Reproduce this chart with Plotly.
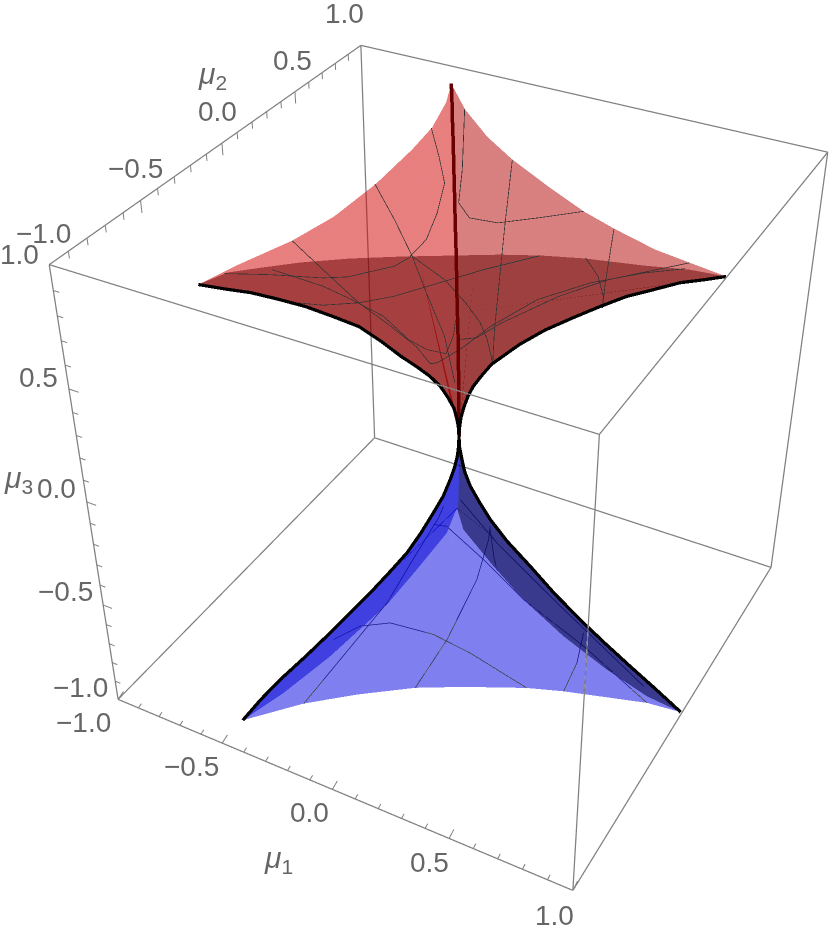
import numpy as np
import plotly.graph_objects as go

# red funnel: ridges (corner down to the neck) and rim arcs on mu3 = 1
rl_x = [-493, -449, -402, -353, -305, -254, -204, -160, -122, -89, -62, -39, -24, -11, -4, -1, 0]
rl_y = [-869, -792, -709, -622, -538, -448, -360, -283, -214, -157, -109, -70, -42, -19, -7, -2, 0]
rl_z = [1000, 955, 909, 850, 790, 715, 639, 545, 454, 385, 323, 260, 199, 140, 83, 40, 0]
rr_x = [997, 920, 840, 745, 650, 553, 456, 347, 248, 190, 135, 94, 60, 38, 22, 8, 1, 0]
rr_y = [-5, -5, -5, -4, -3, -3, -2, -2, -1, -1, -1, 0, 0, 0, 0, 0, 0, 0]
rr_z = [1000, 965, 931, 875, 820, 750, 676, 590, 498, 435, 375, 310, 252, 200, 148, 90, 33, 0]
rb_x = [-498, -459, -420, -372, -325, -276, -228, -173, -124, -95, -67, -47, -30, -19, -11, -4, 0, 0]
rb_y = [856, 790, 721, 640, 558, 474, 391, 298, 212, 163, 116, 80, 52, 33, 19, 7, 1, 0]
rb_z = [1000, 965, 931, 875, 820, 750, 676, 590, 498, 435, 375, 310, 252, 200, 148, 90, 33, 0]
af_x = [-453, -370, -277, -145, -5, 138, 282, 405, 542, 733, 874]
af_y = [-762, -680, -593, -492, -402, -317, -232, -172, -120, -69, -22]
al_x = [-455, -379, -342, -336, -354, -377, -434]
al_y = [-719, -483, -275, 1, 291, 484, 697]
ar_x = [-340, -160, 7, 213, 403, 544, 724]
ar_y = [678, 516, 396, 273, 168, 109, 45]
rf_mid = (327, -626, 1000)
rbl_mid = (-261, 171, 600)
rbr_mid = (-89, 290, 600)

# blue funnel: ridges and rim arcs on mu3 = -1
bl_x = [-499, -457, -412, -354, -298, -246, -198, -158, -120, -87, -59, -36, -20, -10, -4, -1, 0]
bl_y = [-860, -790, -711, -611, -513, -425, -341, -273, -208, -151, -101, -62, -35, -17, -7, -1, 0]
bl_z = [-1000, -930, -867, -800, -730, -660, -595, -535, -475, -400, -325, -260, -192, -140, -94, -45, 0]
br_x = [995, 880, 768, 660, 559, 430, 318, 215, 139, 90, 50, 25, 13, 2, 0]
br_y = [-1, -1, -1, -1, -1, 0, 0, 0, 0, 0, 0, 0, 0, 0, 0]
br_z = [-1000, -925, -855, -785, -716, -620, -521, -435, -354, -285, -222, -160, -106, -50, 0]
bb_x = [-398, -352, -307, -264, -223, -172, -127, -86, -56, -36, -20, -10, -5, -1, 0]
bb_y = [715, 632, 552, 474, 401, 309, 229, 154, 100, 65, 36, 18, 9, 1, 0]
bb_z = [-1000, -925, -855, -785, -716, -620, -521, -435, -354, -285, -222, -160, -106, -50, 0]
baf_x = [-339, -179, 7, 175, 400, 538, 857]
baf_y = [-669, -525, -381, -284, -169, -116, -17]
bal_x = [-352, -346, -345, -389, -441]
bal_y = [536, 255, -4, -387, -656]
bar_x = [-298, -64, 149, 398, 638, 842]
bar_y = [592, 433, 300, 175, 80, 17]
bf_mid = (-24, 68, -1000)

# thin mesh curves
rm0_x = [-339, -148, 29, 184, 359, 510]
rm0_y = [-4, -194, -381, -561, -758, -968]
rm1_x = [-378, -241, -124, -41, 16, 24, 9, -91, -158, -324, -457]
rm1_y = [479, 291, 121, -83, -262, -397, -465, -597, -641, -707, -771]
rm2_x = [-380, -187, 23, 183, 309, 395, 411, 439, 459, 517, 624, 753, 861]
rm2_y = [-484, -596, -717, -788, -850, -913, -899, -790, -639, -428, -252, -111, -22]
rm3_x = [407, 451, 480, 569, 667, 857]
rm3_y = [-754, -719, -606, -377, -206, 18]
rm4_x = [-334, -131, -7, 134, 270, 347, 411, 383, 344]
rm4_y = [-676, -685, -711, -749, -828, -850, -842, -745, -657]
rm5_x = [402, 279, 201, 103, 23, -70, -147]
rm5_y = [-174, -344, -470, -629, -717, -784, -810]
rm6_x = [29, 196, 325, 421, 485, 560]
rm6_y = [-381, -461, -555, -637, -712, -819]
rm7_x = [7, 198, 478, 560]
rm7_y = [396, -33, -650, -819]
rm8_x = [-342, -117, -10, 74, 176, 280, 401]
rm8_y = [677, 241, 16, -61, -45, 50, 169]
rm9_x = [544, 666, 722]
rm9_y = [107, -230, -374]
rm10_x = [542, 628, 695, 722]
rm10_y = [-116, -204, -308, -374]
bm0_x = [-338, -343, -350, -401, -436, -457]
bm0_y = [-669, -384, 6, 353, 611, 696]
bm1_x = [7, -17, -86, -167, -204]
bm1_y = [-381, -72, 320, 584, 670]
bm2_x = [-430, -375, -275, -81, 105, 400]
bm2_y = [-295, -173, -96, -72, -98, -169]
bm3_x = [-433, -375, -123, 150, 497, 857]
bm3_y = [560, 577, 452, 300, 160, -17]
bm4_x = [538, 515, 462]
bm4_y = [-115, 57, 233]
bm5_x = [-413, -124, 305, 808]
bm5_y = [775, 581, 337, 63]
bm6_x = [-193, -94, -41]
bm6_y = [649, 493, 420]

# axis ticks and labels
tick_minor = [-0.9, -0.8, -0.7, -0.6, -0.4, -0.3, -0.2, -0.1, 0.1, 0.2, 0.3, 0.4, 0.6, 0.7, 0.8, 0.9]
tick_major = [-1.0, -0.5, 0.0, 0.5, 1.0]
tick_text = ["\u22121.0", "\u22120.5", "0.0", "0.5", "1.0"]
mu1_shift = [(-35, 23), (-31, 23), (-23, 23), (-20, 24), (-18, 25)]
mu2_shift = [(-6, -31), (-5, -32), (-4, -32), (-2, -31), (-16, -32)]
mu3_shift = [(-38, -12), (-38, -13), (-30, -13), (-30, -11), (-30, -10)]

# camera of the reference box
az, el, dist = -1.07461, 0.63206, 3.38294
fig_w, fig_h = 1000, 1465
left_off, top_off = 41, 296


def curve(x, y, z):
    return np.array([x, y, z], float).T/1000


def flat(x, y, z):
    return curve(x, y, [z]*len(x))


def mesh(pts, tri, color, alpha):
    tri = np.array(tri)
    return go.Mesh3d(x=pts[:, 0], y=pts[:, 1], z=pts[:, 2], i=tri[:, 0], j=tri[:, 1], k=tri[:, 2],
                     color=color, opacity=alpha, flatshading=True, hoverinfo="skip",
                     lighting=dict(ambient=1, diffuse=0, specular=0, fresnel=0, roughness=1))


def sheet(a, b, color, alpha):
    # stitch two boundary polylines into one triangle strip
    a, b = np.array(a), np.array(b)
    na, nb = len(a), len(b)
    i, j, tri = 0, 0, []
    while i < na-1 or j < nb-1:
        if j == nb-1 or (i < na-1 and (i+1)/(na-1) <= (j+1)/(nb-1)):
            tri.append((i, i+1, na+j))
            i += 1
        else:
            tri.append((i, na+j, na+j+1))
            j += 1
    return mesh(np.vstack([a, b]), tri, color, alpha)


def fan(edge, mid, color, alpha):
    # a sheet whose three sides all bow inwards needs an inner vertex
    n = len(edge)
    return mesh(np.vstack([edge, np.array(mid, float)/1000]), [(n, t, t+1) for t in range(n-1)], color, alpha)


def path(x, y, z, color, width, alpha=1):
    return go.Scatter3d(x=x, y=y, z=z, mode="lines", line=dict(color=color, width=width), opacity=alpha, hoverinfo="skip")


rl = curve(rl_x, rl_y, rl_z)
rr = curve(rr_x, rr_y, rr_z)
rb = curve(rb_x, rb_y, rb_z)
af = flat(af_x, af_y, 1000)
al = flat(al_x, al_y, 1000)
ar = flat(ar_x, ar_y, 1000)
bl = curve(bl_x, bl_y, bl_z)
br = curve(br_x, br_y, br_z)
bb = curve(bb_x, bb_y, bb_z)
baf = flat(baf_x, baf_y, -1000)
bal = flat(bal_x, bal_y, -1000)
bar = flat(bar_x, bar_y, -1000)

fig = go.Figure()

# box
ex, ey, ez = [], [], []
for s in [-1, 1]:
    for t in [-1, 1]:
        ex += [-1, 1, None, s, s, None, s, s, None]
        ey += [s, s, None, -1, 1, None, t, t, None]
        ez += [t, t, None, t, t, None, -1, 1, None]
fig.add_trace(path(ex, ey, ez, "#808080", 2.5))

# ticks
tx, ty, tz = [], [], []
for v, a, b in [(t, .02, .006) for t in tick_minor]+[(t, .037, .011) for t in tick_major]:
    tx += [v, v, None]; ty += [-1, -1+a, None]; tz += [-1, -1+b, None]
for v, a in [(t, .028) for t in tick_minor]+[(t, .05) for t in tick_major]:
    tx += [-1, -1, None]; ty += [v, v, None]; tz += [1, 1-a, None]
for v, a in [(t, .025) for t in tick_minor]+[(t, .042) for t in tick_major]:
    tx += [-1, -1+a, None]; ty += [-1, -1, None]; tz += [v, v, None]
fig.add_trace(path(tx, ty, tz, "#808080", 2))

# blue curves lie under the blue sheets
blue_curves = [(bm0_x, bm0_y), (bm1_x, bm1_y), (bm2_x, bm2_y), (bm3_x, bm3_y), (bm4_x, bm4_y), (bm5_x, bm5_y), (bm6_x, bm6_y)]
for cx_, cy_ in blue_curves:
    c = flat(cx_, cy_, -1000)
    fig.add_trace(path(c[:, 0], c[:, 1], c[:, 2], "#333333", 1.5))

# red sheets
fig.add_trace(fan(np.vstack([rl[::-1], al, rb]), rbl_mid, "rgb(209,1,1)", 0.5))
fig.add_trace(fan(np.vstack([rr[::-1], ar[::-1], rb]), rbr_mid, "rgb(178,0,0)", 0.5))
fig.add_trace(fan(np.vstack([rl[::-1], af, rr]), rf_mid, "rgb(100,0,0)", 0.5))

# blue sheets
fig.add_trace(fan(np.vstack([bl[::-1], baf, br]), bf_mid, "rgb(1,1,225)", 0.5))
fig.add_trace(sheet(bl, np.vstack([bl[:1], bal[::-1], bb]), "rgb(0,0,210)", 0.5))
fig.add_trace(sheet(br, np.vstack([br[:1], bar[::-1], bb]), "rgb(0,0,60)", 0.55))

# red curves and ridges are drawn over the finished sheets
red_curves = [(rm0_x, rm0_y), (rm1_x, rm1_y), (rm2_x, rm2_y), (rm3_x, rm3_y), (rm4_x, rm4_y), (rm5_x, rm5_y),
              (rm6_x, rm6_y), (rm7_x, rm7_y), (rm8_x, rm8_y), (rm9_x, rm9_y), (rm10_x, rm10_y)]
for cx_, cy_ in red_curves:
    c = flat(cx_, cy_, 1000)
    fig.add_trace(path(c[:, 0], c[:, 1], c[:, 2], "#333333", 1.5, 0.99))
fig.add_trace(path(rb[:, 0], rb[:, 1], rb[:, 2], "rgb(105,0,0)", 7, 0.99))
for c in [rl, rr, bl, br]:
    fig.add_trace(path(c[:, 0], c[:, 1], c[:, 2], "black", 6.5, 0.99))

# labels
grey = "#666666"
labels = []
def label(x, y, z, text, shift, size=28):
    labels.append(dict(x=x, y=y, z=z, text=text, showarrow=False, xanchor="center", yanchor="middle",
                       xshift=shift[0], yshift=-shift[1], font=dict(family="Liberation Sans", size=size, color=grey)))
for v, s, sh in zip(tick_major, tick_text, mu1_shift):
    label(v, -1, -1, s, sh)
for v, s, sh in zip(tick_major, tick_text, mu2_shift):
    label(-1, v, 1, s, sh)
for v, s, sh in zip(tick_major, tick_text, mu3_shift):
    label(-1, -1, v, s, sh)
label(0, -1, -1, "<i>\u03bc</i><sub>1</sub>", (-54, 70), 30)
label(-1, 0, 1, "<i>\u03bc</i><sub>2</sub>", (-9, -68), 30)
label(-1, -1, 0, "<i>\u03bc</i><sub>3</sub>", (-68, -22), 30)

noax = dict(visible=False, range=[-1, 1], autorange=False)
eye = dist*np.array([np.cos(el)*np.cos(az), np.cos(el)*np.sin(az), np.sin(el)])
fig.update_layout(width=fig_w, height=fig_h, margin=dict(l=0, r=0, t=0, b=0), showlegend=False, paper_bgcolor="white",
                  scene=dict(domain=dict(x=[0, 1], y=[0, 1]), xaxis=noax, yaxis=noax, zaxis=noax, aspectmode="cube",
                             annotations=labels,
                             camera=dict(eye=dict(x=eye[0], y=eye[1], z=eye[2]), center=dict(x=0, y=0, z=0), up=dict(x=0, y=0, z=1))))

# the scene is larger than the window so the perspective matches; slide it into place
shift_js = "document.documentElement.style.overflow='hidden';document.body.style.overflow='hidden';" \
           "document.body.style.margin='-%dpx 0 0 -%dpx';" % (top_off, left_off)
fig.write_html("out.html", post_script=shift_js, config=dict(displayModeBar=False))
